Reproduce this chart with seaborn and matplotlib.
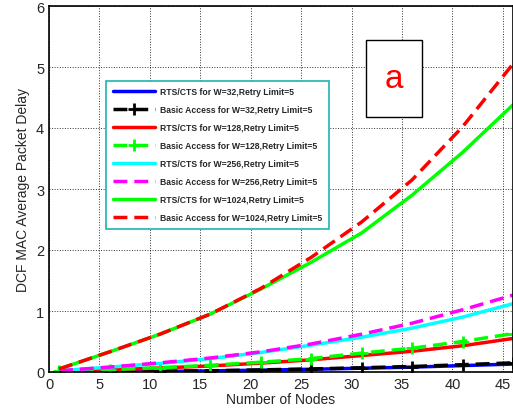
import matplotlib
matplotlib.use("Agg")
import matplotlib.pyplot as plt
from matplotlib.patches import Rectangle
import pandas as pd
import seaborn as sns

# number of nodes
nodes = [1, 6, 11, 16, 21, 26, 31, 36, 41, 46]

# average packet delay per series
rts_32 = [0.001, 0.005, 0.01, 0.018, 0.03, 0.045, 0.062, 0.08, 0.105, 0.13]
basic_32 = [0.001, 0.006, 0.012, 0.02, 0.035, 0.05, 0.07, 0.09, 0.12, 0.15]
rts_128 = [0.01, 0.035, 0.065, 0.1, 0.145, 0.2, 0.27, 0.34, 0.43, 0.55]
basic_128 = [0.01, 0.04, 0.07, 0.11, 0.16, 0.22, 0.31, 0.39, 0.5, 0.63]
rts_256 = [0.02, 0.08, 0.14, 0.22, 0.32, 0.44, 0.57, 0.72, 0.9, 1.12]
basic_256 = [0.02, 0.08, 0.15, 0.23, 0.33, 0.46, 0.62, 0.8, 1.02, 1.26]
rts_1024 = [0.05, 0.33, 0.62, 0.95, 1.36, 1.8, 2.28, 2.9, 3.6, 4.38]
basic_1024 = [0.05, 0.33, 0.62, 0.95, 1.37, 1.88, 2.46, 3.15, 4.02, 5.05]

labels = [
    "RTS/CTS for W=32,Retry Limit=5",
    "Basic Access for W=32,Retry Limit=5",
    "RTS/CTS for W=128,Retry Limit=5",
    "Basic Access for W=128,Retry Limit=5",
    "RTS/CTS for W=256,Retry Limit=5",
    "Basic Access for W=256,Retry Limit=5",
    "RTS/CTS for W=1024,Retry Limit=5",
    "Basic Access for W=1024,Retry Limit=5",
]
series = [rts_32, basic_32, rts_128, basic_128, rts_256, basic_256, rts_1024, basic_1024]
colors = ["#0000ff", "#000000", "#ff0000", "#00ff00", "#00ffff", "#ff00ff", "#00ff00", "#ff0000"]
dashed = [False, True, False, True, False, True, False, True]
markers = [None, "+", None, "+", None, None, None, None]

sns.set_style("white")
plt.rcParams["font.family"] = ["Liberation Sans", "DejaVu Sans"]

fig = plt.figure(figsize=(5.13, 4.14), dpi=100)
ax = fig.add_axes([49 / 513, 41 / 414, 464 / 513, 366 / 414])

for lab, vals, c, d, m in zip(labels, series, colors, dashed, markers):
    df = pd.DataFrame({"nodes": nodes, "delay": vals})
    sns.lineplot(data=df, x="nodes", y="delay", ax=ax, color=c, lw=2.5,
                 linestyle=(0, (4, 2)) if d else "-",
                 marker=m, markersize=9, markeredgewidth=2,
                 markeredgecolor=c, label=lab)

ax.set_xlim(0, 46)
ax.set_ylim(0, 6)
ax.set_xticks(range(0, 46, 5))
ax.set_yticks(range(0, 7))
ax.grid(True, color="black", linestyle=":", linewidth=0.7, alpha=0.8)
ax.tick_params(labelsize=10.5, length=3, direction="in")
for s in ax.spines.values():
    s.set_color("black")
    s.set_linewidth(1.2)
ax.set_xlabel("Number of Nodes", fontsize=10, labelpad=1)
ax.set_ylabel("DCF MAC Average Packet Delay", fontsize=10, labelpad=4)

leg = ax.legend(loc="upper left", bbox_to_anchor=(0.114, 0.808),
                prop={"weight": "bold", "size": 6.2}, handlelength=4.9,
                labelspacing=1.05, frameon=True, fancybox=False,
                borderpad=0.75, handletextpad=0.6)
leg.get_frame().set_edgecolor("#20b2b2")
leg.get_frame().set_linewidth(1.2)
leg.get_frame().set_alpha(1)

# label box "a"
fig.patches.append(Rectangle((366 / 513, 1 - 118 / 414), 56 / 513, 77 / 414,
                             transform=fig.transFigure, fc="white", ec="black",
                             lw=1, zorder=5))
fig.text(394 / 513, 1 - 79 / 414, "a", color="red", fontsize=24,
         ha="center", va="center", zorder=6)

fig.savefig("out.png", dpi=100)
